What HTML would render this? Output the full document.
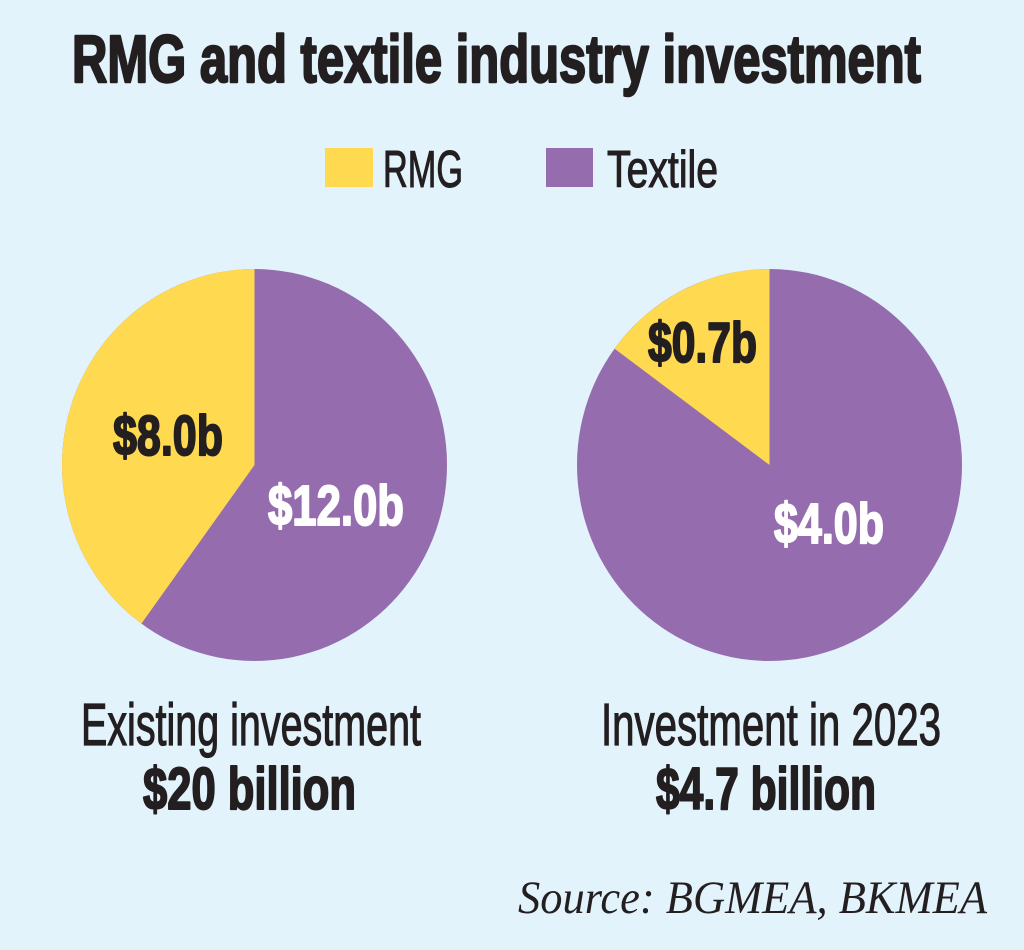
<!DOCTYPE html>
<html>
<head>
<meta charset="utf-8">
<style>
  html, body { margin: 0; padding: 0; background: #E3F3FB; }
  svg { display: block; }
  .cond { font-family: "Liberation Sans Narrow", "Liberation Sans", sans-serif; }
  .serif { font-family: "Liberation Serif", serif; }
</style>
</head>
<body>
<svg width="1024" height="950" viewBox="0 0 1024 950" xmlns="http://www.w3.org/2000/svg">
  <rect x="0" y="0" width="1024" height="950" fill="#E3F3FB"/>

  <!-- Title -->
  <text class="cond" x="72" y="82" font-size="67" font-weight="bold" fill="#231F20" stroke="#231F20" stroke-width="2.4" stroke-linejoin="round"
        textLength="849" lengthAdjust="spacingAndGlyphs">RMG and textile industry investment</text>

  <!-- Legend -->
  <rect x="325" y="148" width="48" height="39" fill="#FFD950"/>
  <text class="cond" x="383" y="187" font-size="52" fill="#231F20" stroke="#231F20" stroke-width="1.1"
        textLength="80" lengthAdjust="spacingAndGlyphs">RMG</text>
  <rect x="546" y="148" width="47" height="39" fill="#956DAE"/>
  <text class="cond" x="607" y="187" font-size="52" fill="#231F20" stroke="#231F20" stroke-width="1.1"
        textLength="111" lengthAdjust="spacingAndGlyphs">Textile</text>

  <!-- Left pie -->
  <ellipse cx="254.5" cy="465" rx="192.5" ry="196" fill="#956DAE"/>
  <path d="M254.5,465 L254.5,269 A192.5,196 0 0,0 141.4,623.6 Z" fill="#FFD950"/>

  <!-- Right pie -->
  <ellipse cx="769.5" cy="465" rx="192.5" ry="196" fill="#956DAE"/>
  <path d="M769.5,465 L769.5,269 A192.5,196 0 0,0 614.6,348.7 Z" fill="#FFD950"/>

  <!-- Pie labels -->
  <text class="cond" x="113" y="455" font-size="57" font-weight="bold" fill="#231F20" stroke="#231F20" stroke-width="2" stroke-linejoin="round"
        textLength="110" lengthAdjust="spacingAndGlyphs">$8.0b</text>
  <text class="cond" x="268" y="525" font-size="57" font-weight="bold" fill="#FFFFFF" stroke="#FFFFFF" stroke-width="2" stroke-linejoin="round"
        textLength="136" lengthAdjust="spacingAndGlyphs">$12.0b</text>
  <text class="cond" x="648" y="362" font-size="57" font-weight="bold" fill="#231F20" stroke="#231F20" stroke-width="2" stroke-linejoin="round"
        textLength="109" lengthAdjust="spacingAndGlyphs">$0.7b</text>
  <text class="cond" x="774" y="543" font-size="57" font-weight="bold" fill="#FFFFFF" stroke="#FFFFFF" stroke-width="2" stroke-linejoin="round"
        textLength="110" lengthAdjust="spacingAndGlyphs">$4.0b</text>

  <!-- Captions -->
  <text class="cond" x="81" y="745" font-size="59" fill="#231F20" stroke="#231F20" stroke-width="1.2"
        textLength="340" lengthAdjust="spacingAndGlyphs">Existing investment</text>
  <text class="cond" x="143" y="809" font-size="59" font-weight="bold" fill="#231F20" stroke="#231F20" stroke-width="2" stroke-linejoin="round"
        textLength="213" lengthAdjust="spacingAndGlyphs">$20 billion</text>
  <text class="cond" x="601" y="745" font-size="59" fill="#231F20" stroke="#231F20" stroke-width="1.2"
        textLength="340" lengthAdjust="spacingAndGlyphs">Investment in 2023</text>
  <text class="cond" x="656" y="809" font-size="59" font-weight="bold" fill="#231F20" stroke="#231F20" stroke-width="2" stroke-linejoin="round"
        textLength="220" lengthAdjust="spacingAndGlyphs">$4.7 billion</text>

  <!-- Source -->
  <text class="serif" x="518" y="913" font-size="47" font-style="italic" fill="#231F20"
        textLength="469" lengthAdjust="spacingAndGlyphs">Source: BGMEA, BKMEA</text>
</svg>
</body>
</html>
